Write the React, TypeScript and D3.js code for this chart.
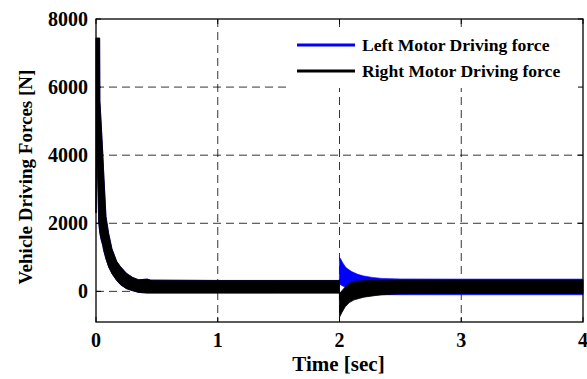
import React from 'react';
import * as d3 from 'd3';

// envelope of the oscillating force signals
const rightTime = [0, 0.004, 0.012, 0.022, 0.03, 0.032, 0.04, 0.055, 0.063, 0.082, 0.104, 0.131, 0.17, 0.2, 0.25, 0.3, 0.35, 0.42, 0.45, 1.0, 1.5, 1.999,
  2.0, 2.02, 2.047, 2.08, 2.12, 2.2, 2.3, 2.35, 2.5, 3, 4];
const rightUpper = [7440, 7440, 7440, 7440, 7440, 5600, 5100, 4100, 3500, 2200, 1700, 1250, 880, 730, 530, 410, 340, 360, 330, 320, 320, 320,
  -65, 20, 130, 230, 290, 315, 320, 320, 320, 320, 320];
const rightLower = [2300, 3800, 3600, 2040, 1750, 1700, 1550, 1350, 1200, 950, 715, 520, 320, 200, 80, 20, -30, -50, -50, -50, -50, -50,
  -760, -620, -450, -330, -250, -170, -120, -100, -70, -60, -60];

const leftTime = [0, 0.004, 0.012, 0.022, 0.03, 0.032, 0.04, 0.055, 0.063, 0.082, 0.104, 0.131, 0.17, 0.2, 0.25, 0.3, 0.35, 0.42, 0.45, 1.0, 1.5, 1.999,
  2.0, 2.01, 2.03, 2.047, 2.06, 2.1, 2.15, 2.2, 2.27, 2.35, 2.5, 3, 4];
const leftUpper = [7440, 7440, 7440, 7440, 7440, 5600, 5100, 4100, 3500, 2200, 1700, 1250, 880, 730, 530, 410, 340, 360, 330, 320, 320, 320,
  1000, 950, 820, 730, 680, 580, 500, 450, 410, 380, 365, 360, 360];
const leftLower = [2300, 3800, 3600, 2040, 1750, 1700, 1550, 1350, 1200, 950, 715, 520, 320, 200, 80, 20, -30, -50, -50, -50, -50, -50,
  230, 190, 150, 126, 60, -20, -60, -80, -95, -100, -100, -100, -100];

const xTicks = [0, 1, 2, 3, 4];
const yTicks = [0, 2000, 4000, 6000, 8000];
const legendLabels = ['Left Motor Driving force', 'Right Motor Driving force'];
const legendColors = ['#0000ff', '#000000'];

const W = 587;
const H = 379;
const plot = { left: 96, right: 583, top: 19, bottom: 322 };

export default function App() {
  const x = d3.scaleLinear().domain([0, 4]).range([plot.left, plot.right]);
  const y = d3.scaleLinear().domain([-900, 8000]).range([plot.bottom, plot.top]);

  const band = (time: number[], up: number[], lo: number[]) => {
    const pts = time.map((t, i) => ({ t, u: up[i], l: lo[i] }));
    return d3.area<{ t: number; u: number; l: number }>()
      .x(d => x(d.t))
      .y0(d => y(d.l))
      .y1(d => y(d.u))(pts) || '';
  };

  const tickLen = 5;

  return (
    <svg width={W} height={H}
      style={{ position: 'absolute', left: 0, top: 0, background: '#fff', fontFamily: "'Liberation Serif', 'Times New Roman', serif", fontWeight: 'bold' }}>
      <rect x={0} y={0} width={W} height={H} fill="#fff" />
      {/* grid */}
      {xTicks.slice(1, -1).map(t => (
        <line key={'gx' + t} x1={x(t)} x2={x(t)} y1={plot.top} y2={plot.bottom}
          stroke="#000" strokeWidth={0.8} strokeDasharray="8,5" />
      ))}
      {yTicks.slice(0, -1).map(t => (
        <line key={'gy' + t} x1={plot.left} x2={plot.right} y1={y(t)} y2={y(t)}
          stroke="#000" strokeWidth={0.8} strokeDasharray="8,5" />
      ))}
      {/* signals */}
      <path d={band(leftTime, leftUpper, leftLower)} fill="#0000ff" stroke="#0000ff" strokeWidth={0.6} />
      <path d={band(rightTime, rightUpper, rightLower)} fill="#000" stroke="#000" strokeWidth={0.8} />
      {/* legend */}
      <rect x={286} y={32} width={plot.right - 286} height={56} fill="#fff" />
      {legendLabels.map((lab, i) => (
        <g key={lab} transform={`translate(0,${45 + i * 26})`}>
          <line x1={297} x2={355} y1={0} y2={0} stroke={legendColors[i]} strokeWidth={3} />
          <text x={362} y={6} fontSize={17.6} fill="#000">{lab}</text>
        </g>
      ))}
      {/* axes box and ticks */}
      <rect x={plot.left} y={plot.top} width={plot.right - plot.left} height={plot.bottom - plot.top}
        fill="none" stroke="#000" strokeWidth={1.3} />
      {xTicks.map(t => (
        <g key={'tx' + t}>
          <line x1={x(t)} x2={x(t)} y1={plot.bottom} y2={plot.bottom - tickLen} stroke="#000" />
          <line x1={x(t)} x2={x(t)} y1={plot.top} y2={plot.top + tickLen} stroke="#000" />
          <text x={x(t)} y={347} textAnchor="middle" fontSize={20}>{t}</text>
        </g>
      ))}
      {yTicks.map(t => (
        <g key={'ty' + t}>
          <line x1={plot.left} x2={plot.left + tickLen} y1={y(t)} y2={y(t)} stroke="#000" />
          <line x1={plot.right} x2={plot.right - tickLen} y1={y(t)} y2={y(t)} stroke="#000" />
          <text x={88} y={y(t) + 6.5} textAnchor="end" fontSize={20}>{t}</text>
        </g>
      ))}
      <text x={(plot.left + plot.right) / 2 - 1} y={371} textAnchor="middle" fontSize={21}>Time [sec]</text>
      <text transform={`translate(32,${177}) rotate(-90)`} textAnchor="middle" fontSize={19}>Vehicle Driving Forces [N]</text>
    </svg>
  );
}
